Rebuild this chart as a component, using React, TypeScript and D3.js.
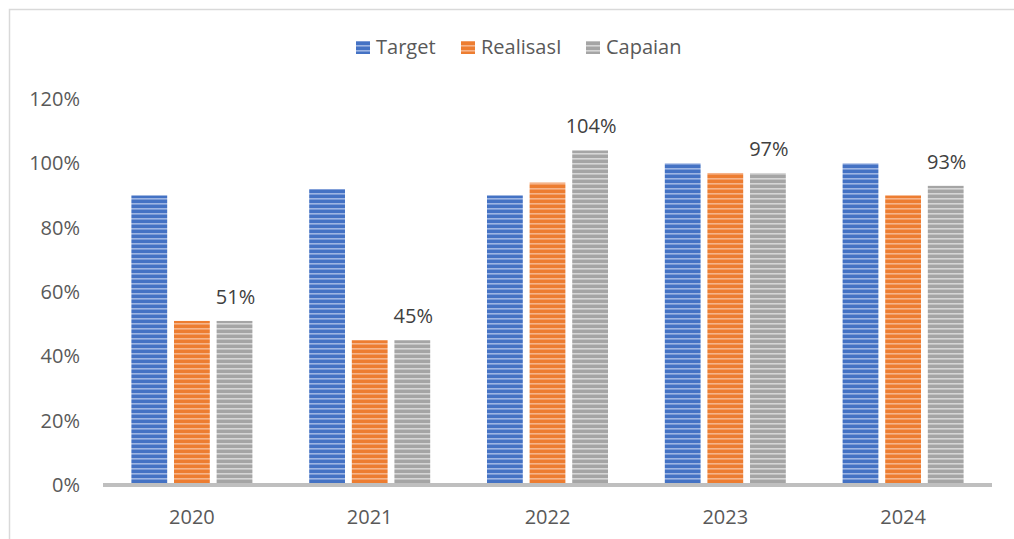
import { useRef, useEffect } from 'react'
import * as d3 from 'd3'

const years = ['2020', '2021', '2022', '2023', '2024']
const target = [90, 92, 90, 100, 100]
const realisasi = [51, 45, 94, 97, 90]
const capaian = [51, 45, 104, 97, 93]
const yTicks = [0, 20, 40, 60, 80, 100, 120]
const seriesNames = ['Target', 'RealisasI', 'Capaian']

const W = 1014
const H = 539
const FONT = '"Open Sans", "Liberation Sans", sans-serif'

const palette = [
  { dark: '#4472c4', light: '#9db5e3' },
  { dark: '#ed7d31', light: '#f6b48a' },
  { dark: '#a5a5a5', light: '#d6d6d6' },
]

export default function App() {
  const svgRef = useRef<SVGSVGElement>(null)

  useEffect(() => {
    if (!svgRef.current) return
    const svg = d3.select(svgRef.current)
    svg.selectAll('*').remove()

    const x0 = d3.scaleBand().domain(years).range([103, 992])
    const x1 = d3.scaleBand().domain(seriesNames).range([-60.5, 60.5]).paddingInner(0.16)
    const y = d3.scaleLinear().domain([0, 120]).range([485, 99])

    // stripe patterns
    const defs = svg.append('defs')
    palette.forEach((p, i) => {
      const pat = defs
        .append('pattern')
        .attr('id', `stripe-${i}`)
        .attr('patternUnits', 'userSpaceOnUse')
        .attr('width', 8)
        .attr('height', 5)
      pat.append('rect').attr('width', 8).attr('height', 5).attr('fill', p.dark)
      pat.append('rect').attr('y', 3).attr('width', 8).attr('height', 1.6).attr('fill', p.light)
    })

    // frame
    svg.append('rect').attr('width', W).attr('height', H).attr('fill', '#ffffff')
    svg
      .append('path')
      .attr('d', `M9.5,${H} V9.5 H${W}`)
      .attr('fill', 'none')
      .attr('stroke', '#d9d9d9')
      .attr('stroke-width', 1.5)

    // y tick labels
    svg
      .append('g')
      .selectAll('text')
      .data(yTicks)
      .join('text')
      .attr('x', 80)
      .attr('y', (d) => y(d))
      .attr('dy', '0.35em')
      .attr('text-anchor', 'end')
      .attr('font-family', FONT)
      .attr('font-size', 20)
      .attr('fill', '#595959')
      .text((d) => `${d}%`)

    // bars
    const seriesData = [target, realisasi, capaian]
    seriesData.forEach((vals, si) => {
      svg
        .append('g')
        .selectAll('rect')
        .data(vals)
        .join('rect')
        .attr('x', (_, i) => (x0(years[i]) ?? 0) + x0.bandwidth() / 2 + (x1(seriesNames[si]) ?? 0))
        .attr('y', (d) => y(d))
        .attr('width', x1.bandwidth())
        .attr('height', (d) => y(0) - y(d))
        .attr('fill', `url(#stripe-${si})`)
    })

    // capaian labels
    svg
      .append('g')
      .selectAll('text')
      .data(capaian)
      .join('text')
      .attr('x', (_, i) => (x0(years[i]) ?? 0) + x0.bandwidth() / 2 + (x1('Capaian') ?? 0) + x1.bandwidth() / 2 + 1)
      .attr('y', (d) => y(d) - 17)
      .attr('text-anchor', 'middle')
      .attr('font-family', FONT)
      .attr('font-size', 20)
      .attr('fill', '#404040')
      .text((d) => `${d}%`)

    // x axis line
    svg
      .append('line')
      .attr('x1', 103)
      .attr('x2', 992)
      .attr('y1', y(0))
      .attr('y2', y(0))
      .attr('stroke', '#bfbfbf')
      .attr('stroke-width', 4)

    // x labels
    svg
      .append('g')
      .selectAll('text')
      .data(years)
      .join('text')
      .attr('x', (d) => (x0(d) ?? 0) + x0.bandwidth() / 2)
      .attr('y', 517)
      .attr('dy', '0.35em')
      .attr('text-anchor', 'middle')
      .attr('font-family', FONT)
      .attr('font-size', 20)
      .attr('fill', '#595959')
      .text((d) => d)

    // legend
    const legendX = [356, 461, 586]
    const leg = svg
      .append('g')
      .selectAll('g')
      .data(seriesNames)
      .join('g')
      .attr('transform', (_, i) => `translate(${legendX[i]},47)`)
    leg
      .append('rect')
      .attr('x', 0)
      .attr('y', -6)
      .attr('width', 14)
      .attr('height', 13)
      .attr('fill', (_, i) => `url(#stripe-${i})`)
    leg
      .append('text')
      .attr('x', 20)
      .attr('y', 0)
      .attr('dy', '0.35em')
      .attr('font-family', FONT)
      .attr('font-size', 20)
      .attr('fill', '#595959')
      .text((d) => d)
  }, [])

  return (
    <svg
      ref={svgRef}
      width={W}
      height={H}
      style={{ position: 'absolute', left: 0, top: 0, display: 'block' }}
    />
  )
}
